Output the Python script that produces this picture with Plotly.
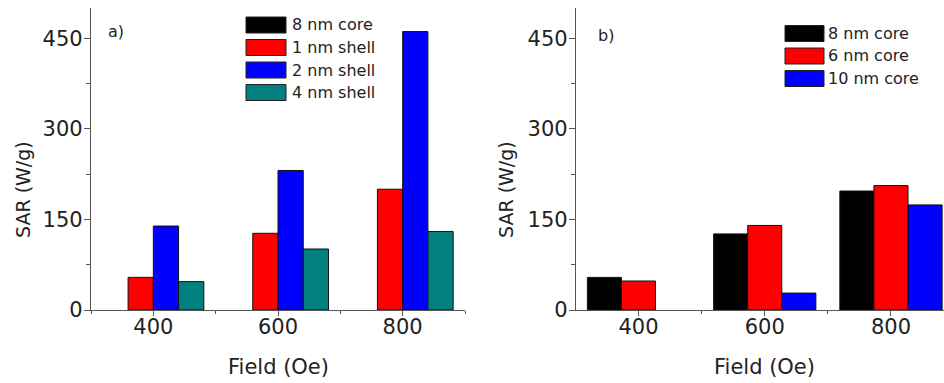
import plotly.graph_objects as go

# ---------------- data ----------------
fields = [400, 600, 800]

names_a = ["8 nm core", "1 nm shell", "2 nm shell", "4 nm shell"]
core8_a = [None, None, None]
shell1_a = [54, 127, 200]
shell2_a = [139, 231, 461]
shell4_a = [47, 101, 130]

names_b = ["8 nm core", "6 nm core", "10 nm core"]
core8_b = [54, 126, 197]
core6_b = [48, 140, 206]
core10_b = [None, 28, 174]

colors_a = ["#000000", "#FF0000", "#0000FF", "#008080"]
colors_b = ["#000000", "#FF0000", "#0000FF"]

y_ticks = [0, 150, 300, 450]
x_title = "Field (Oe)"
y_title = "SAR (W/g)"
panel_labels = ["a)", "b)"]

# ---------------- layout geometry (pixels) ----------------
W, H = 944, 383
FONT = "DejaVu Sans"
AX = "#555555"
FRAME = "#8a8a8a"
TXT = "#222222"

pa = dict(x0=91, x1=465)
pb = dict(x0=576, x1=944)
y_top, y_bot = 8, 310
XR_A = [300, 900]
XR_B = [301, 884]
YR = [0, 500]

fig = go.Figure()

series_a = [core8_a, shell1_a, shell2_a, shell4_a]
for n, vals, c in zip(names_a, series_a, colors_a):
    fig.add_trace(go.Bar(x=fields, y=vals, name=n, marker=dict(color=c, line=dict(color="#111111", width=1)),
                         xaxis="x", yaxis="y", showlegend=False))

series_b = [core8_b, core6_b, core10_b]
for n, vals, c in zip(names_b, series_b, colors_b):
    fig.add_trace(go.Bar(x=fields, y=vals, name=n, marker=dict(color=c, line=dict(color="#111111", width=1)),
                         xaxis="x2", yaxis="y2", showlegend=False))

tickfont = dict(family=FONT, size=21, color=TXT)
ydom = [(H - y_bot) / H, (H - y_top) / H]


def xaxis(x0, x1, rng, anchor):
    return dict(domain=[x0 / W, x1 / W], range=rng, anchor=anchor, showline=True, linecolor=AX, linewidth=1.3,
                ticks="outside", ticklen=5, tickwidth=1.3, tickcolor=AX, tick0=400, dtick=200,
                minor=dict(ticks="outside", ticklen=2.5, tickwidth=1.2, tickcolor=AX, dtick=100, tick0=400),
                ticklabelstandoff=-7,
                showgrid=False, zeroline=False, tickfont=tickfont, fixedrange=True)


def yaxis(anchor):
    return dict(domain=ydom, range=YR, showline=True, linecolor=AX, anchor=anchor,
                linewidth=1.3, ticks="outside", ticklen=6, tickwidth=1.3, tickcolor=AX,
                tickvals=y_ticks, minor=dict(ticks="outside", ticklen=3.5, tickwidth=1.2, tickcolor=AX, dtick=75, tick0=0),
                ticklabelstandoff=-3,
                showgrid=False, zeroline=False, tickfont=tickfont, fixedrange=True)


fig.update_layout(
    width=W, height=H,
    margin=dict(l=0, r=0, t=0, b=0, autoexpand=False),
    paper_bgcolor="white", plot_bgcolor="white",
    barmode="group", bargap=0.19, bargroupgap=0,
    xaxis=xaxis(pa["x0"], pa["x1"], XR_A, "y"),
    yaxis=yaxis("x"),
    xaxis2=xaxis(pb["x0"], pb["x1"], XR_B, "y2"),
    yaxis2=yaxis("x2"),
    # frame: top of panel a (plain line)
    xaxis3=dict(overlaying="x", side="top", anchor="y", range=XR_A, showline=True, linecolor=FRAME,
                linewidth=1.3, ticks="", showticklabels=False, showgrid=False, zeroline=False, fixedrange=True),
    # frame: right of panel a (plain line)
    yaxis3=dict(overlaying="y", side="right", anchor="x", range=YR, showline=True, linecolor=FRAME,
                linewidth=1.3, ticks="", showticklabels=False, showgrid=False, zeroline=False, fixedrange=True),
    # frame: top of panel b (inside ticks)
    xaxis4=dict(overlaying="x2", side="top", anchor="y2", range=XR_B, showline=True, linecolor=FRAME,
                linewidth=1.3, ticks="inside", ticklen=4, tickwidth=1.2, tickcolor=FRAME, tick0=400, dtick=100,
                showticklabels=False, showgrid=False, zeroline=False, fixedrange=True),
    showlegend=False,
)

shapes = []
annotations = []


def add_legend(names, colors, sx0, sx1, row0, tx):
    for i, (n, c) in enumerate(zip(names, colors)):
        yc = row0 + i * 22.5
        shapes.append(dict(type="rect", xref="paper", yref="paper",
                           x0=sx0 / W, x1=sx1 / W, y0=(H - yc - 8) / H, y1=(H - yc + 8) / H,
                           fillcolor=c, line=dict(color="#222222", width=1)))
        annotations.append(dict(xref="paper", yref="paper", x=tx / W, y=(H - yc) / H, text=n,
                                showarrow=False, xanchor="left", yanchor="middle",
                                font=dict(family=FONT, size=16, color=TXT)))


add_legend(names_a, colors_a, 246, 286, 25, 290)
add_legend(names_b, colors_b, 785, 824, 33.5, 826)

# panel labels
annotations.append(dict(xref="paper", yref="paper", x=106 / W, y=(H - 32) / H, text=panel_labels[0],
                        showarrow=False, xanchor="left", yanchor="middle", font=dict(family=FONT, size=16, color=TXT)))
annotations.append(dict(xref="paper", yref="paper", x=596 / W, y=(H - 35) / H, text=panel_labels[1],
                        showarrow=False, xanchor="left", yanchor="middle", font=dict(family=FONT, size=16, color=TXT)))

# axis titles
for cx in (278, 764):
    annotations.append(dict(xref="paper", yref="paper", x=cx / W, y=(H - 367) / H, text=x_title,
                            showarrow=False, xanchor="center", yanchor="middle",
                            font=dict(family=FONT, size=21, color=TXT)))
for cx in (23, 506):
    annotations.append(dict(xref="paper", yref="paper", x=cx / W, y=(H - 190) / H, text=y_title,
                            showarrow=False, xanchor="center", yanchor="middle", textangle=-90,
                            font=dict(family=FONT, size=19, color=TXT)))

fig.update_layout(shapes=shapes, annotations=annotations)

fig.write_html("out.html", config={"displayModeBar": False},
               post_script="document.body.style.margin='0';document.body.style.overflow='hidden';")
